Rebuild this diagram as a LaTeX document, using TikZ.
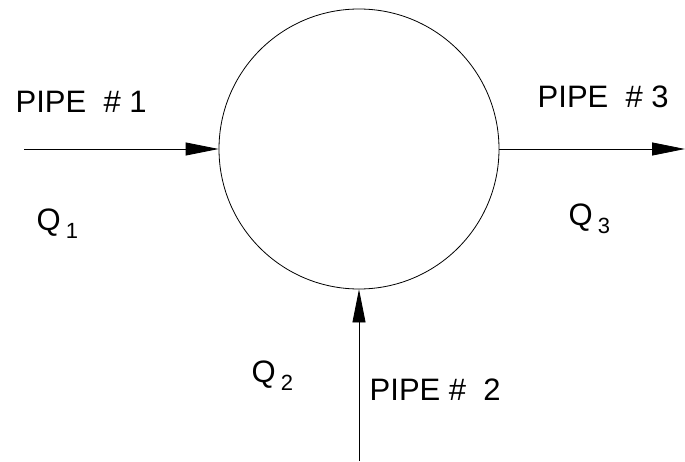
\documentclass[tikz,border=0pt]{standalone}
\usepackage{fontspec}
\setmainfont{Liberation Sans}
\usetikzlibrary{arrows.meta,positioning}
\newcommand{\flowq}[1]{Q\hspace{5pt}\raisebox{-8pt}{\fontsize{22}{26}\selectfont #1}}

\begin{document}
\begin{tikzpicture}[x=1pt,y=1pt,
    pipe/.style={line width=0.8pt,-{Triangle[length=33pt,width=13pt]}},
    lbl/.style={inner sep=0pt,anchor=base west,font=\fontsize{31}{37}\selectfont}]
\useasboundingbox (0,0) rectangle (685,461);
% Junction
\node [circle,draw,line width=0.8pt,minimum size=280pt,inner sep=0pt] (junc) at (359,312) {};
% Pipe ends
\coordinate (in1) at (24,312);
\coordinate (in2) at (359,0);
\coordinate (out3) at (685,312);
% Pipes
\draw [pipe] (in1) -- (junc.west);
\draw [pipe] (in2) -- (junc.south);
\draw [pipe] (junc.east) -- (out3);
% labels
\node [lbl] (pipe1) at (15.5,348) {PIPE~~\# 1};
\node [lbl] (pipe2) at (369.5,61) {PIPE \#~~2};
\node [lbl] (pipe3) at (537.5,353) {PIPE~~\# 3};
\node [lbl] (q1) at (36.5,230) {\flowq{1}};
\node [lbl] (q2) at (251.5,79) {\flowq{2}};
\node [lbl] (q3) at (568.5,235) {\flowq{3}};
\end{tikzpicture}
\end{document}
